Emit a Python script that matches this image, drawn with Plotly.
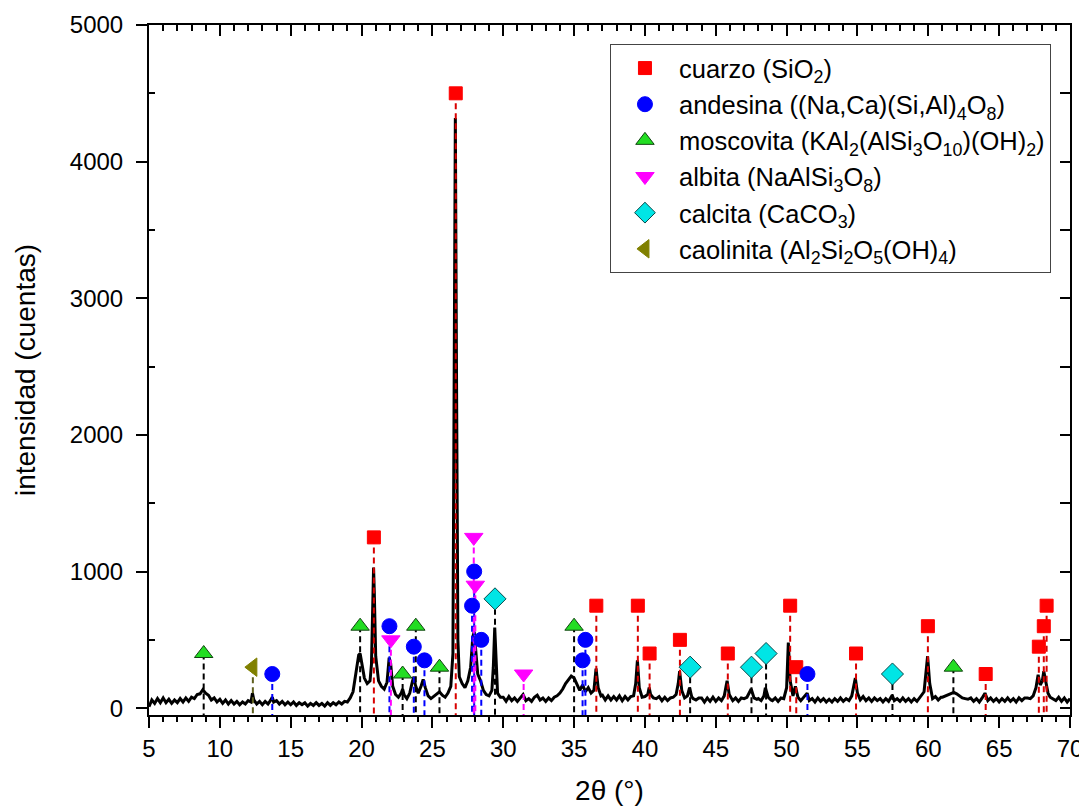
import plotly.graph_objects as go

# ---- diffraction pattern (2theta in degrees, intensity in counts) ----
two_theta = [
    5.0, 5.2, 5.4, 5.6, 5.8,
    6.0, 6.2, 6.4, 6.6, 6.8,
    7.0, 7.2, 7.4, 7.6, 7.8,
    8.0, 8.2, 8.4, 8.6, 8.8,
    9.0, 9.2, 9.4, 9.6, 9.8,
    10.0, 10.2, 10.4, 10.6, 10.8,
    11.0, 11.2, 11.4, 11.6, 11.8,
    12.0, 12.2, 12.3, 12.4, 12.6, 12.8,
    13.0, 13.2, 13.4, 13.6, 13.7, 13.8,
    14.0, 14.2, 14.4, 14.6, 14.8,
    15.0, 15.2, 15.4, 15.6, 15.8,
    16.0, 16.2, 16.4, 16.6, 16.8,
    17.0, 17.2, 17.4, 17.6, 17.8,
    18.0, 18.2, 18.4, 18.6, 18.8,
    19.0, 19.2, 19.4, 19.6, 19.8, 19.9,
    20.0, 20.2, 20.4, 20.6, 20.7, 20.8, 20.85, 20.9,
    21.0, 21.2, 21.4, 21.6, 21.8, 21.95,
    22.05, 22.2, 22.4, 22.6, 22.8, 22.9,
    23.0, 23.2, 23.4, 23.6, 23.7, 23.8,
    24.0, 24.2, 24.35, 24.5, 24.7, 24.9,
    25.1, 25.3, 25.5, 25.7, 25.9,
    26.1, 26.3, 26.45, 26.55, 26.62, 26.7, 26.8, 26.9,
    27.1, 27.3, 27.5, 27.7, 27.85, 27.95,
    28.05, 28.2, 28.4, 28.6, 28.8,
    29.0, 29.2, 29.3, 29.4, 29.5, 29.6, 29.8,
    30.0, 30.2, 30.4, 30.6, 30.8,
    31.0, 31.2, 31.4, 31.6, 31.8,
    32.0, 32.2, 32.4, 32.6, 32.8,
    33.0, 33.2, 33.4, 33.6, 33.8,
    34.0, 34.2, 34.4, 34.6, 34.8,
    35.0, 35.2, 35.4, 35.6, 35.8,
    36.0, 36.2, 36.4, 36.55, 36.7, 36.9,
    37.0, 37.2, 37.4, 37.6, 37.8,
    38.0, 38.2, 38.4, 38.6, 38.8,
    39.0, 39.2, 39.35, 39.47, 39.6, 39.8,
    40.0, 40.2, 40.3, 40.4, 40.6, 40.8,
    41.0, 41.2, 41.4, 41.6, 41.8,
    42.0, 42.2, 42.35, 42.45, 42.6, 42.8,
    43.0, 43.15, 43.3, 43.4, 43.6, 43.8,
    44.0, 44.2, 44.4, 44.6, 44.8,
    45.0, 45.2, 45.4, 45.6, 45.8, 45.95,
    46.2, 46.4, 46.6, 46.8,
    47.0, 47.2, 47.5, 47.7, 47.9,
    48.0, 48.2, 48.4, 48.5, 48.7, 48.9,
    49.0, 49.2, 49.4, 49.6, 49.8,
    50.0, 50.12, 50.25, 50.45, 50.62, 50.8,
    51.0, 51.2, 51.45, 51.6, 51.8,
    52.0, 52.2, 52.4, 52.6, 52.8,
    53.0, 53.2, 53.4, 53.6, 53.8,
    54.0, 54.2, 54.4, 54.6, 54.85,
    55.0, 55.2, 55.4, 55.6, 55.8,
    56.0, 56.2, 56.4, 56.6, 56.8,
    57.0, 57.2, 57.45, 57.6, 57.8,
    58.0, 58.2, 58.4, 58.6, 58.8,
    59.0, 59.2, 59.4, 59.7, 59.95,
    60.1, 60.3, 60.5, 60.7, 60.9,
    61.0, 61.2, 61.4, 61.6, 61.8,
    62.0, 62.2, 62.4, 62.6, 62.8,
    63.0, 63.2, 63.4, 63.6, 63.8,
    64.0, 64.2, 64.4, 64.6, 64.8,
    65.0, 65.2, 65.4, 65.6, 65.8,
    66.0, 66.2, 66.4, 66.6, 66.8,
    67.0, 67.2, 67.4, 67.6, 67.75, 67.9,
    68.05, 68.15, 68.3, 68.45, 68.6, 68.8,
    69.0, 69.2, 69.4, 69.6, 69.8, 70.0,
]
counts = [
    10, 60, 35, 70, 40,
    75, 40, 65, 35, 60,
    40, 70, 45, 75, 50,
    80, 70, 100, 105, 135,
    110, 95, 60, 75, 45,
    65, 35, 60, 30, 55,
    30, 50, 25, 45, 30,
    55, 45, 110, 60, 30, 50,
    25, 50, 30, 60, 80, 45,
    55, 30, 50, 25, 45,
    25, 45, 20, 40, 25,
    40, 15, 35, 20, 40,
    20, 35, 15, 40, 20,
    40, 25, 45, 30, 50,
    45, 75, 120, 250, 390, 400,
    330, 220, 180, 200, 320, 800, 1030, 850,
    380, 200, 160, 140, 190, 370,
    330, 160, 100, 80, 110, 140,
    100, 70, 110, 200, 230, 170,
    110, 160, 210, 150, 90, 70,
    85, 100, 120, 95, 80,
    110, 160, 400, 2800, 4320, 2500, 500, 230,
    180, 150, 200, 300, 520, 560,
    420, 250, 200, 130, 100,
    90, 130, 300, 590, 300, 110, 80,
    80, 50, 85, 55, 75,
    50, 75, 100, 55, 70,
    50, 80, 95, 60, 75,
    50, 75, 55, 80, 90,
    110, 140, 180, 210, 235,
    220, 170, 130, 170, 120,
    150, 110, 130, 290, 150, 90,
    95, 60, 90, 60, 85,
    60, 90, 55, 85, 60,
    85, 90, 180, 350, 150, 80,
    85, 100, 150, 100, 75, 70,
    85, 55, 80, 55, 75,
    80, 100, 180, 270, 130, 75,
    90, 150, 85, 70, 60, 75,
    75, 45, 75, 50, 80,
    50, 75, 55, 90, 200, 100,
    55, 75, 50, 75,
    70, 80, 140, 75, 65,
    70, 55, 90, 150, 80, 60,
    55, 75, 50, 75, 70,
    150, 480, 200, 90, 160, 80,
    55, 80, 110, 55, 70,
    45, 75, 50, 70, 45,
    65, 45, 70, 50, 75,
    50, 70, 55, 90, 220,
    110, 60, 85, 55, 75,
    50, 75, 55, 70, 45,
    70, 50, 95, 55, 70,
    50, 75, 50, 70, 45,
    70, 50, 75, 120, 380,
    180, 70, 85, 60, 80,
    80, 90, 100, 110, 115,
    105, 90, 75, 70, 65,
    75, 50, 70, 45, 75,
    110, 55, 75, 50, 70,
    45, 70, 50, 75, 50,
    70, 45, 75, 55, 75,
    75, 70, 90, 150, 245, 170,
    200, 270, 190, 110, 80, 70,
    55, 80, 50, 75, 45, 70,
]

# ---- phase identification markers (position, marker height) ----
cuarzo_x = [20.87, 26.65, 36.57, 39.5, 40.33, 42.47, 45.85, 50.25, 50.68, 54.9, 59.97, 64.05, 67.8, 68.15, 68.35]
cuarzo_y = [1250, 4500, 750, 750, 400, 500, 400, 750, 300, 400, 600, 250, 450, 600, 750]

andesina_x = [13.7, 21.97, 23.69, 24.44, 27.95, 27.8, 28.45, 35.8, 35.6, 51.47]
andesina_y = [250, 600, 450, 350, 1000, 750, 500, 500, 350, 250]

moscovita_x = [8.86, 19.9, 22.9, 23.83, 25.5, 35.0, 61.77]
moscovita_y = [400, 600, 250, 600, 300, 600, 300]

albita_x = [22.07, 27.92, 28.03, 31.44]
albita_y = [500, 1250, 900, 250]

calcita_x = [29.42, 43.19, 47.52, 48.55, 57.47]
calcita_y = [800, 300, 300, 400, 250]

caolinita_x = [12.33]
caolinita_y = [300]

phases = [
    dict(name="cuarzo (SiO<sub>2</sub>)", x=cuarzo_x, y=cuarzo_y,
         symbol="square", color="#ff0000", edge="#ff0000", drop="#d80000", size=13),
    dict(name="andesina ((Na,Ca)(Si,Al)<sub>4</sub>O<sub>8</sub>)", x=andesina_x, y=andesina_y,
         symbol="circle", color="#0000ff", edge="#0000ff", drop="#0000ff", size=15),
    dict(name="moscovita (KAl<sub>2</sub>(AlSi<sub>3</sub>O<sub>10</sub>)(OH)<sub>2</sub>)", x=moscovita_x, y=moscovita_y,
         symbol="triangle-up", color="#22dd22", edge="#114411", drop="#000000", size=16),
    dict(name="albita (NaAlSi<sub>3</sub>O<sub>8</sub>)", x=albita_x, y=albita_y,
         symbol="triangle-down", color="#ff00ff", edge="#ff00ff", drop="#ff00ff", size=16),
    dict(name="calcita (CaCO<sub>3</sub>)", x=calcita_x, y=calcita_y,
         symbol="diamond", color="#00e5e5", edge="#0a4a4a", drop="#000000", size=17),
    dict(name="caolinita (Al<sub>2</sub>Si<sub>2</sub>O<sub>5</sub>(OH)<sub>4</sub>)", x=caolinita_x, y=caolinita_y,
         symbol="triangle-left", color="#808000", edge="#808000", drop="#606020", size=16),
]

Y_MIN, Y_MAX = -50, 5000
X_MIN, X_MAX = 5, 70
FONT = "Arial, 'Liberation Sans', sans-serif"

fig = go.Figure()

fig.add_trace(go.Scatter(
    x=two_theta, y=counts, mode="lines",
    line=dict(color="black", width=3),
    showlegend=False, hoverinfo="skip",
))

# dashed drop lines from each marker to the axis
for p in phases:
    lx, ly = [], []
    for xv, yv in zip(p["x"], p["y"]):
        lx += [xv, xv, None]
        ly += [yv, Y_MIN, None]
    fig.add_trace(go.Scatter(
        x=lx, y=ly, mode="lines",
        line=dict(color=p["drop"], width=2, dash="6px,4px"),
        showlegend=False, hoverinfo="skip",
    ))

for i, p in enumerate(phases):
    fig.add_trace(go.Scatter(
        x=p["x"], y=p["y"], mode="markers", name=p["name"],
        legendgroup=f"g{i}",
        marker=dict(symbol=p["symbol"], size=p["size"], color=p["color"],
                    line=dict(color=p["edge"], width=1)),
    ))

# empty trace to activate the mirrored (top / right) axes
fig.add_trace(go.Scatter(x=[None], y=[None], xaxis="x2", yaxis="y2",
                         showlegend=False, hoverinfo="skip"))

axis_common = dict(showgrid=False, zeroline=False, showline=True, automargin=False,
                   linecolor="black", linewidth=2, tickcolor="black", tickwidth=2)

fig.update_layout(
    width=1087, height=812,
    # the page body adds an 8px offset, margins compensate for it
    margin=dict(l=141, r=25, t=17, b=105),
    paper_bgcolor="white", plot_bgcolor="white",
    font=dict(family=FONT, color="black", size=24),
    xaxis=dict(range=[X_MIN, X_MAX], dtick=5, tick0=5, ticks="outside", ticklen=11,
               minor=dict(dtick=1, ticks="outside", ticklen=5, tickwidth=2, tickcolor="black"),
               tickfont=dict(size=24),
               title=dict(text="2θ (°)", font=dict(size=28), standoff=20),
               **axis_common),
    yaxis=dict(range=[Y_MIN, Y_MAX], tickvals=[0, 1000, 2000, 3000, 4000, 5000],
               ticks="outside", ticklen=11, ticklabelstandoff=8,
               minor=dict(tickvals=[500, 1500, 2500, 3500, 4500], ticks="inside",
                          ticklen=6, tickwidth=2, tickcolor="black"),
               tickfont=dict(size=24),
               title=dict(text="intensidad (cuentas)", font=dict(size=28), standoff=26),
               **axis_common),
    xaxis2=dict(range=[X_MIN, X_MAX], overlaying="x", side="top", anchor="y2",
                dtick=5, tick0=5, ticks="inside", ticklen=11, showticklabels=False,
                minor=dict(dtick=1, ticks="inside", ticklen=6, tickwidth=2, tickcolor="black"),
                **axis_common),
    yaxis2=dict(range=[Y_MIN, Y_MAX], overlaying="y", side="right", anchor="x2",
                tickvals=[0, 500, 1000, 1500, 2000, 2500, 3000, 3500, 4000, 4500, 5000],
                ticks="inside", ticklen=10, showticklabels=False,
                **axis_common),
    legend=dict(x=0.5005, y=0.9725, xanchor="left", yanchor="top",
                bgcolor="white", bordercolor="#444", borderwidth=1,
                font=dict(size=25.5), tracegroupgap=0, itemwidth=58,
                traceorder="grouped"),
    showlegend=True,
)

fig.write_html("out.html")
